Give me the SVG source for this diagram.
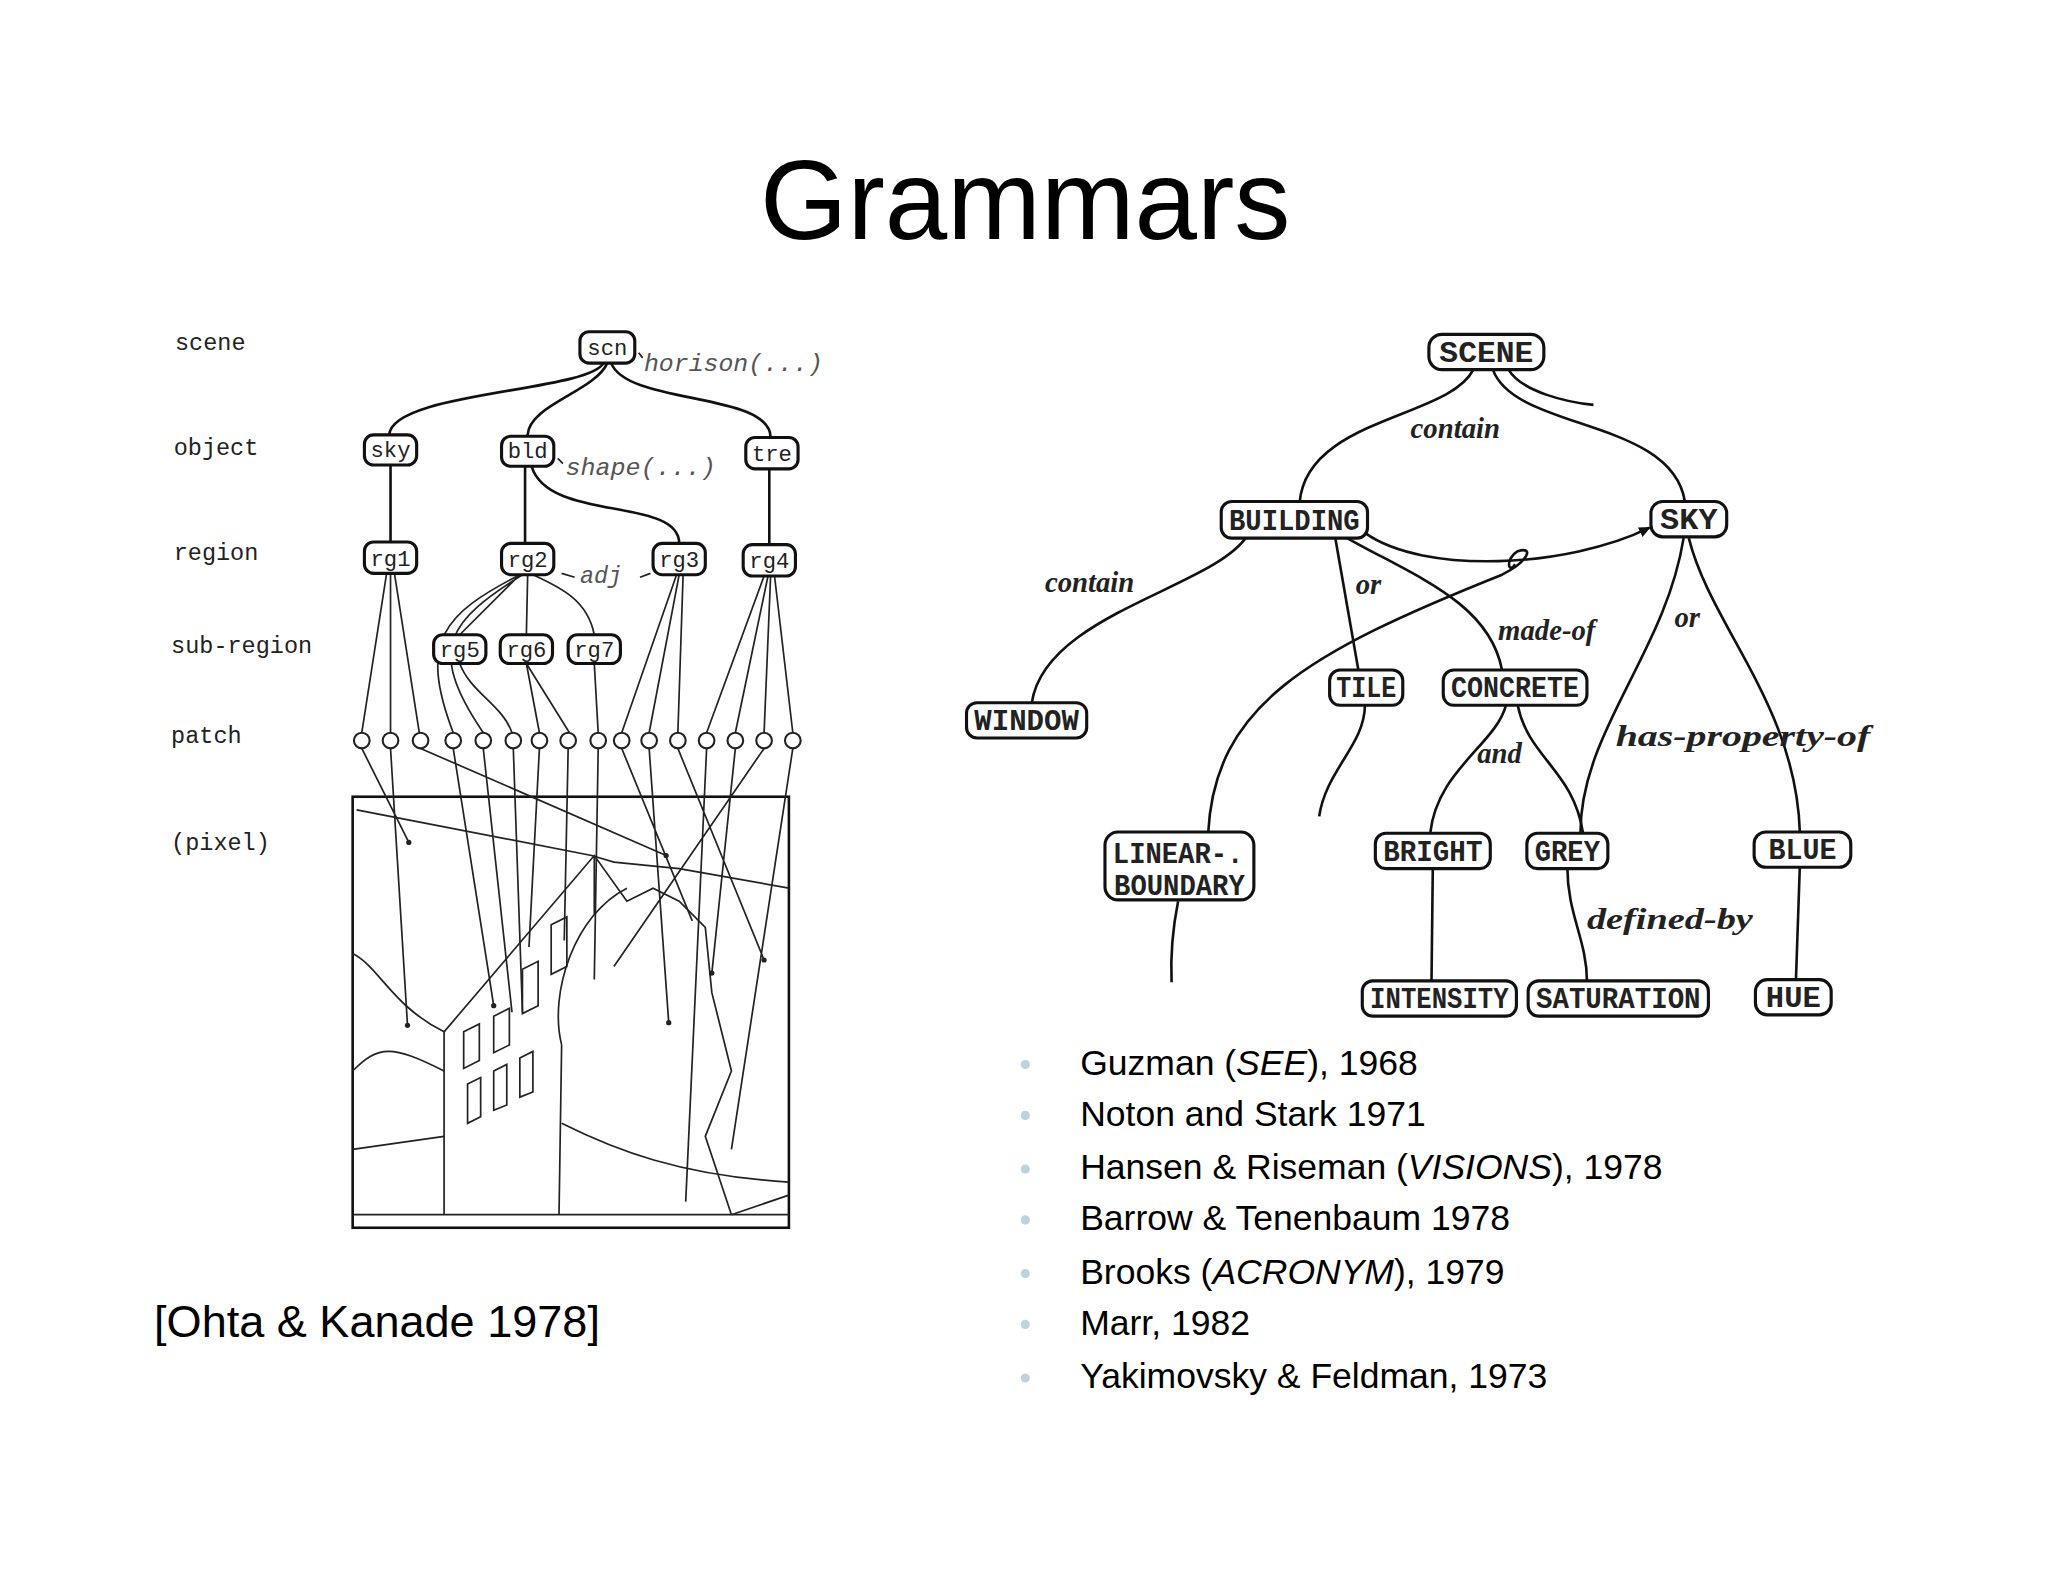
<svg xmlns="http://www.w3.org/2000/svg" width="2048" height="1582" viewBox="0 0 2048 1582">
<style>
.t{font-family:"Liberation Sans",Arial,sans-serif;fill:#000}
.m{font-family:"Liberation Mono","DejaVu Sans Mono",monospace;fill:#222}
.i{font-family:"Liberation Serif",serif;font-style:italic;fill:#222}
.im{font-family:"Liberation Mono","DejaVu Sans Mono",monospace;font-style:italic;fill:#555}
.b{fill:#fff;stroke:#111;stroke-width:2.4}
.e{fill:none;stroke:#111;stroke-width:2}
.l{fill:none;stroke:#222;stroke-width:1.3}
.d{fill:#bcd3dc}
</style>
<defs>
<marker id="ar" markerWidth="10" markerHeight="10" refX="8" refY="5" orient="auto" markerUnits="userSpaceOnUse"><path d="M0,1 L9,5 L0,9 z" fill="#111"/></marker>
</defs>
<rect width="2048" height="1582" fill="#fff"/>
<g transform="scale(1.30612)">
<text class="t" x="785" y="183" font-size="86" text-anchor="middle">Grammars</text>

<!-- LEFT: Ohta & Kanade -->
<g id="levels" class="m" font-size="18">
<text x="134" y="268">scene</text>
<text x="133" y="348">object</text>
<text x="133" y="429">region</text>
<text x="131" y="500">sub-region</text>
<text x="131" y="569">patch</text>
<text x="131" y="651">(pixel)</text>
</g>
<g id="left-edges">
<path class="e" d="M462,278 C450,300 300,300 298,333"/>
<path class="e" d="M465,278 C455,300 405,310 404,333"/>
<path class="e" d="M468,278 C480,310 590,300 590,335"/>
<path class="e" d="M299,356 L299,415"/>
<path class="e" d="M402,357 L402,416"/>
<path class="e" d="M407,357 C420,400 520,380 520,416"/>
<path class="e" d="M589,359 L589,417"/>
<path class="l" d="M296,439 L277,561 M299,439 L299,561 M302,439 L321,561"/>
<path class="l" d="M398,440 C340,470 320,490 347,561 M400,440 C345,475 325,495 370,561 M398,440 L352,486 M404,440 L403,486 M408,440 C430,450 450,460 455,486"/>
<path class="l" d="M352,508 C360,530 385,540 392,561 M403,508 L413,561 M403,508 L436,561 M455,508 L458,561"/>
<path class="l" d="M518,440 L476,561 M520,440 L497,561 M523,440 L519,561"/>
<path class="l" d="M585,441 L541,561 M588,441 L563,561 M590,441 L585,561 M593,441 L607,561"/>
<path class="l" d="M498,439 L490,442 M430,439 L440,442"/>
<path class="l" d="M489,270 L492,274 M427,351 L431,355"/>
</g>
<g id="left-nodes" class="m" font-size="17" text-anchor="middle">
<g id="scn"><rect class="b" x="444" y="254" width="42" height="24" rx="7"/><text x="465" y="272">scn</text></g>
<g id="sky"><rect class="b" x="279" y="333" width="40" height="23" rx="7"/><text x="299" y="350">sky</text></g>
<g id="bld"><rect class="b" x="384" y="334" width="40" height="23" rx="7"/><text x="404" y="351">bld</text></g>
<g id="tre"><rect class="b" x="571" y="335" width="40" height="24" rx="7"/><text x="591" y="353">tre</text></g>
<g id="rg1"><rect class="b" x="279" y="415" width="40" height="24" rx="7"/><text x="299" y="433">rg1</text></g>
<g id="rg2"><rect class="b" x="384" y="416" width="40" height="24" rx="7"/><text x="404" y="434">rg2</text></g>
<g id="rg3"><rect class="b" x="500" y="416" width="40" height="24" rx="7"/><text x="520" y="434">rg3</text></g>
<g id="rg4"><rect class="b" x="569" y="417" width="40" height="24" rx="7"/><text x="589" y="435">rg4</text></g>
<g id="rg5"><rect class="b" x="332" y="486" width="40" height="22" rx="7"/><text x="352" y="503">rg5</text></g>
<g id="rg6"><rect class="b" x="383" y="486" width="40" height="22" rx="7"/><text x="403" y="503">rg6</text></g>
<g id="rg7"><rect class="b" x="435" y="486" width="40" height="22" rx="7"/><text x="455" y="503">rg7</text></g>
</g>
<g class="im" font-size="18">
<text x="493" y="284" textLength="137" lengthAdjust="spacingAndGlyphs">horison(...)</text>
<text x="433" y="364" textLength="115" lengthAdjust="spacingAndGlyphs">shape(...)</text>
<text x="444" y="446">adj</text>
</g>
<g id="patches" fill="#fff" stroke="#222" stroke-width="1.6">
<circle cx="277" cy="567" r="6"/><circle cx="299" cy="567" r="6"/><circle cx="322" cy="567" r="6"/><circle cx="347" cy="567" r="6"/>
<circle cx="370" cy="567" r="6"/><circle cx="393" cy="567" r="6"/><circle cx="413" cy="567" r="6"/><circle cx="435" cy="567" r="6"/>
<circle cx="458" cy="567" r="6"/><circle cx="476" cy="567" r="6"/><circle cx="497" cy="567" r="6"/><circle cx="519" cy="567" r="6"/>
<circle cx="541" cy="567" r="6"/><circle cx="563" cy="567" r="6"/><circle cx="585" cy="567" r="6"/><circle cx="607" cy="567" r="6"/>
</g>
<g id="pixel-image">
<rect x="270" y="610" width="334" height="330" fill="none" stroke="#111" stroke-width="2"/>
<path class="l" d="M270,930 L604,930"/>
<path class="l" d="M273,620 L453,655 L470,660 L520,665 L604,680"/>
<path class="l" d="M340,790 L340,930 M340,790 L455,655 L480,690 L500,680 L520,690 L540,710 L545,760 L560,820 L540,870 L560,930 M455,655 L455,700"/>
<path class="l" d="M430,800 C420,760 440,700 480,680 M430,800 L428,930"/>
<path class="l" d="M270,730 C290,740 300,770 340,790 M270,820 C290,800 300,800 340,820 M270,880 L340,870 M430,860 C470,880 520,900 604,905 M560,930 L604,915"/>
<path class="l" d="M355,790 L367,784 L367,812 L355,818 z M378,778 L390,772 L390,800 L378,806 z M400,742 L412,736 L412,770 L400,776 z M422,708 L434,702 L434,740 L422,746 z M358,830 L368,825 L368,855 L358,860 z M378,820 L388,815 L388,846 L378,850 z M398,810 L408,805 L408,836 L398,840 z"/>
<path class="l" d="M277,573 L313,645 M299,573 L312,785 M322,573 L510,655 M347,573 L378,770 M370,573 L392,775 M393,573 L400,775 M413,573 L405,725 M435,573 L432,720 M458,573 L455,750 M476,573 L530,705 M497,573 L512,783 M519,573 L585,735 M541,573 L525,920 M563,573 L545,745 M585,573 L470,740 M607,573 L560,880"/>
<g fill="#222"><circle cx="313" cy="645" r="2"/><circle cx="312" cy="785" r="2"/><circle cx="510" cy="655" r="2"/><circle cx="378" cy="770" r="2"/><circle cx="512" cy="783" r="2"/><circle cx="585" cy="735" r="2"/><circle cx="545" cy="745" r="2"/></g>
</g>
<text class="t" x="118" y="1024" font-size="34.5">[Ohta &amp; Kanade 1978]</text>

<!-- RIGHT: semantic network -->
<g id="right-edges">
<path class="e" d="M1128,283 C1110,320 1000,320 995,385"/>
<path class="e" d="M1143,283 C1160,330 1280,320 1290,384"/>
<path class="e" d="M1155,283 C1165,300 1200,308 1220,310"/>
<path class="e" d="M1045,408 C1090,440 1200,435 1263,404" marker-end="url(#ar)"/>
<path class="e" d="M955,410 C930,450 800,470 790,538"/>
<path class="e" d="M1022,410 L1040,513"/>
<path class="e" d="M1028,410 C1080,440 1140,460 1150,513"/>
<path class="e" d="M925,638 C930,540 1000,500 1150,440 C1170,430 1175,418 1162,422 C1152,428 1155,440 1160,432"/>
<path class="e" d="M1045,540 C1045,570 1015,590 1010,625"/>
<path class="e" d="M1153,540 C1145,570 1100,590 1095,638"/>
<path class="e" d="M1162,540 C1170,580 1205,590 1212,638"/>
<path class="e" d="M1289,412 C1275,500 1210,560 1210,638"/>
<path class="e" d="M1293,412 C1310,480 1375,540 1378,637"/>
<path class="e" d="M1097,664 L1096,751"/>
<path class="e" d="M1200,664 C1200,700 1215,720 1215,751"/>
<path class="e" d="M1378,663 L1375,751"/>
<path class="e" d="M902,690 C898,710 896,730 897,752"/>
</g>
<g class="i" font-size="22" font-weight="bold" fill="#333">
<text x="1080" y="335">contain</text>
<text x="800" y="453">contain</text>
<text x="1038" y="455">or</text>
<text x="1147" y="490">made-of</text>
<text x="1282" y="480">or</text>
<text x="1237" y="571" textLength="195" lengthAdjust="spacingAndGlyphs">has-property-of</text>
<text x="1131" y="584">and</text>
<text x="1215" y="711" textLength="127" lengthAdjust="spacingAndGlyphs">defined-by</text>
</g>
<g id="right-nodes" class="m" font-size="22" text-anchor="middle" font-weight="bold">
<g id="SCENE"><rect class="b" x="1094" y="256" width="88" height="27" rx="10"/><text x="1138" y="277" textLength="72" lengthAdjust="spacingAndGlyphs">SCENE</text></g>
<g id="BUILDING"><rect class="b" x="935" y="384" width="112" height="28" rx="8"/><text x="991" y="406" textLength="100" lengthAdjust="spacingAndGlyphs">BUILDING</text></g>
<g id="SKY"><rect class="b" x="1264" y="384" width="58" height="27" rx="9"/><text x="1293" y="405" textLength="44" lengthAdjust="spacingAndGlyphs">SKY</text></g>
<g id="WINDOW"><rect class="b" x="740" y="538" width="92" height="27" rx="8"/><text x="786" y="559" textLength="80" lengthAdjust="spacingAndGlyphs">WINDOW</text></g>
<g id="TILE"><rect class="b" x="1018" y="513" width="56" height="27" rx="8"/><text x="1046" y="534" textLength="46" lengthAdjust="spacingAndGlyphs">TILE</text></g>
<g id="CONCRETE"><rect class="b" x="1105" y="513" width="110" height="27" rx="8"/><text x="1160" y="534" textLength="98" lengthAdjust="spacingAndGlyphs">CONCRETE</text></g>
<g id="LINEAR-BOUNDARY"><rect class="b" x="846" y="637" width="114" height="52" rx="10"/><text x="902" y="661" textLength="100" lengthAdjust="spacingAndGlyphs">LINEAR-.</text><text x="903" y="685" textLength="100" lengthAdjust="spacingAndGlyphs">BOUNDARY</text></g>
<g id="BRIGHT"><rect class="b" x="1053" y="638" width="88" height="27" rx="8"/><text x="1097" y="659" textLength="76" lengthAdjust="spacingAndGlyphs">BRIGHT</text></g>
<g id="GREY"><rect class="b" x="1169" y="638" width="62" height="27" rx="8"/><text x="1200" y="659" textLength="50" lengthAdjust="spacingAndGlyphs">GREY</text></g>
<g id="BLUE"><rect class="b" x="1343" y="637" width="74" height="27" rx="9"/><text x="1380" y="658" textLength="52" lengthAdjust="spacingAndGlyphs">BLUE</text></g>
<g id="INTENSITY"><rect class="b" x="1043" y="751" width="118" height="27" rx="8"/><text x="1102" y="772" textLength="106" lengthAdjust="spacingAndGlyphs">INTENSITY</text></g>
<g id="SATURATION"><rect class="b" x="1170" y="751" width="138" height="27" rx="8"/><text x="1239" y="772" textLength="126" lengthAdjust="spacingAndGlyphs">SATURATION</text></g>
<g id="HUE"><rect class="b" x="1344" y="750" width="58" height="27" rx="9"/><text x="1373" y="771" textLength="42" lengthAdjust="spacingAndGlyphs">HUE</text></g>
</g>

<!-- bullets -->
<g id="bullets" class="t" font-size="27.2">
<g class="d"><circle cx="785" cy="815" r="3.5"/><circle cx="785" cy="854" r="3.5"/><circle cx="785" cy="895" r="3.5"/><circle cx="785" cy="934" r="3.5"/><circle cx="785" cy="975" r="3.5"/><circle cx="785" cy="1014" r="3.5"/><circle cx="785" cy="1055" r="3.5"/></g>
<text x="827" y="823">Guzman (<tspan font-style="italic">SEE</tspan>), 1968</text>
<text x="827" y="862">Noton and Stark 1971</text>
<text x="827" y="903">Hansen &amp; Riseman (<tspan font-style="italic">VISIONS</tspan>), 1978</text>
<text x="827" y="942">Barrow &amp; Tenenbaum 1978</text>
<text x="827" y="983">Brooks (<tspan font-style="italic">ACRONYM</tspan>), 1979</text>
<text x="827" y="1022">Marr, 1982</text>
<text x="827" y="1063">Yakimovsky &amp; Feldman, 1973</text>
</g>
</g>
</svg>
